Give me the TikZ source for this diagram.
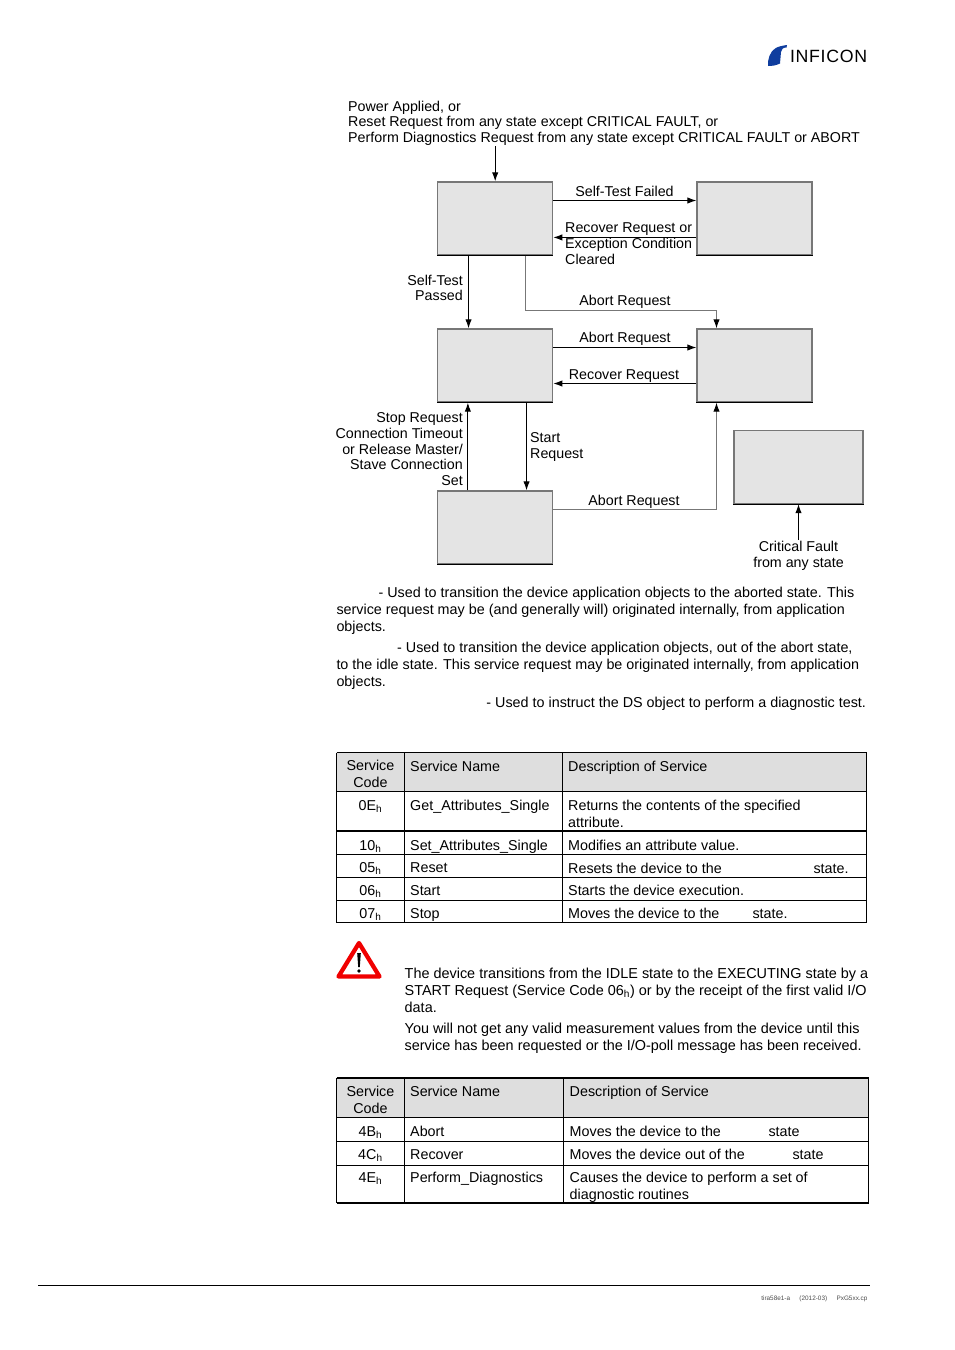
\documentclass[tikz,border=0pt]{standalone}
\usepackage{fontspec}
\setmainfont{Liberation Sans}
\usetikzlibrary{arrows.meta, positioning, calc}
\definecolor{boxc}{HTML}{E4E4E4}
\definecolor{framec}{HTML}{777777}
\definecolor{headc}{HTML}{DEDEDE}
\definecolor{warnc}{HTML}{F00000}
\definecolor{logoc}{HTML}{0F3D9E}
\newcommand{\statebox}[3][]{%
  \node[statenode, #1] (#2) at #3 {};
  \draw[black, line width=0.8pt] (#2.south west) -- (#2.south east);
}
\newcommand{\hs}{\textsubscript{h}}
\begin{document}
\begin{tikzpicture}[x=0.75pt, y=-0.75pt, >={Latex[length=6.8pt,width=4.8pt]},
    line width=0.75pt,
    statenode/.style={draw=framec, fill=boxc, line width=0.9pt, minimum width=86.2pt,
      minimum height=54.8pt, inner sep=0pt},
    graphline/.style={black, ->},
    softline/.style={framec, -{Latex[length=6.8pt,width=4.8pt,black]}},
    lab/.style={inner sep=0pt, align=center, font=\fontsize{10.7}{11.7}\selectfont},
    labl/.style={lab, align=left, anchor=north west},
    labr/.style={lab, align=right, anchor=north east},
    para/.style={inner sep=0pt, align=left, anchor=north west, font=\fontsize{10.76}{12.45}\selectfont},
    warnpara/.style={para, font=\fontsize{10.82}{12.5}\selectfont},
    cell/.style={inner sep=0pt, align=left, anchor=base west, font=\fontsize{10.74}{12.4}\selectfont},
    codecell/.style={cell, align=center, anchor=base},
    tabline/.style={black, line width=0.75pt},
    tabthick/.style={black, line width=1.3pt}]
  \useasboundingbox (0,0) rectangle (954,1350);

  % logo
  \fill[logoc] (768,66) .. controls (767.5,59) and (770,52) .. (775,48.5)
    .. controls (778,46.5) and (783,45.5) .. (787,45) -- (786.5,47.5)
    .. controls (783,47.5) and (781.5,49) .. (781,52) -- (780,63.5)
    .. controls (776,65.5) and (772,66) .. (768,66) -- cycle;
  \node[inner sep=0pt, anchor=base west, font=\fontsize{13.3}{14}\selectfont\addfontfeature{LetterSpace=4}] (logotext)
    at (789.5,62) {INFICON};

  % states
  \statebox{selftest}{(495.2,218.5)}
  \statebox{standby}{(754.5,218.5)}
  \statebox{idle}{(495.2,365.5)}
  \statebox{aborted}{(754.5,365.5)}
  \statebox{executing}{(495.2,527.5)}
  \statebox[minimum width=96.8pt]{critical}{(798.5,467)}

  \node[labl] (powerlab) at (347.7,100.5) {Power Applied, or\\
    Reset Request from any state except CRITICAL FAULT, or\\
    Perform Diagnostics Request from any state except CRITICAL FAULT or ABORT};
  \coordinate (powerin) at (495.2,146);
  \coordinate (faultin) at (798.5,540);
  \draw[graphline] (powerin) -- (selftest.north);

  \draw[graphline] ([yshift=13.5pt]selftest.east) -- ([yshift=13.5pt]standby.west);
  \draw[graphline] ([yshift=-14.2pt]standby.west) -- ([yshift=-14.2pt]selftest.east);
  \draw[graphline] ([xshift=-20pt]selftest.south) -- ([xshift=-20pt]idle.north);
  \draw[softline] ([xshift=23pt]selftest.south) |- (600,310.5) -| ([xshift=-28.5pt]aborted.north);
  \draw[graphline] ([yshift=13.5pt]idle.east) -- ([yshift=13.5pt]aborted.west);
  \draw[graphline] ([yshift=-13.5pt]aborted.west) -- ([yshift=-13.5pt]idle.east);
  \draw[graphline] ([xshift=23.5pt]idle.south) -- ([xshift=23.5pt]executing.north);
  \draw[graphline] ([xshift=-20.5pt]executing.north) -- ([xshift=-20.5pt]idle.south);
  \draw[softline] ([yshift=13.5pt]executing.east) -| ([xshift=-28.5pt]aborted.south);
  \draw[graphline] (faultin) -- (critical.south);

  \node[lab] (failedlab) at (624.5,191.5) {Self-Test Failed};
  \node[labl] (recoverlab) at (564.7,222.5) {Recover Request or\\Exception Condition\\Cleared};
  \node[labr] (passedlab) at (463.3,274.5) {Self-Test\\Passed};
  \node[lab] (abortlab) at (625,302) {Abort Request};
  \node[lab] (abortlabb) at (625,339) {Abort Request};
  \node[lab] (recoverlabb) at (624,376) {Recover Request};
  \node[labr] (stoplab) at (463.3,412.5) {Stop Request\\Connection Timeout\\or Release Master/\\Stave Connection\\Set};
  \node[labl] (startlab) at (529.7,432.5) {Start\\Request};
  \node[lab] (abortlabc) at (634,502) {Abort Request};
  \node[lab] (faultlab) at (798.5,556) {Critical Fault\\from any state};

  % service notes
  \node[para] (noteabort) at (336,587) {\hspace*{31.5pt}- Used to transition the device application objects to the aborted state. This\\
    service request may be (and generally will) originated internally, from application\\
    objects.};
  \node[para] (noterecover) at (336,642) {\hspace*{45.5pt}- Used to transition the device application objects, out of the abort state,\\
    to the idle state. This service request may be originated internally, from application\\
    objects.};
  \node[para, anchor=north east] (notediag) at (866.5,697) {- Used to instruct the DS object to perform a diagnostic test.};

  % first table
  \fill[headc] (336.5,752.5) rectangle (866.5,791.5);
  \draw[tabline] (336.5,752.5) -- (866.5,752.5);
  \draw[tabline] (336.5,791.5) -- (866.5,791.5);
  \draw[tabthick] (336.5,831) -- (866.5,831);
  \draw[tabline] (336.5,854.5) -- (866.5,854.5);
  \draw[tabthick] (336.5,877.5) -- (866.5,877.5);
  \draw[tabline] (336.5,900) -- (866.5,900);
  \draw[tabline] (336.5,922.5) -- (866.5,922.5);
  \foreach \tx in {336.5,404.5,562.5}
    \draw[tabline] (\tx,752.5) -- (\tx,922.5);
  \draw[tabthick] (866.5,752.5) -- (866.5,922.5);
  \node[codecell] (hcodea) at (370.5,787) {Service\\Code};
  \node[cell] (hnamea) at (409.7,771) {Service Name};
  \node[cell] (hdesca) at (567.7,771) {Description of Service};
  \node[codecell] (codeoe) at (370.5,810) {0E\hs};
  \node[cell] (nameoe) at (409.7,810) {Get\_Attributes\_Single};
  \node[cell] (descoea) at (567.7,810) {Returns the contents of the specified};
  \node[cell] (descoeb) at (567.7,827) {attribute.};
  \node[codecell] (codeten) at (370.5,850) {10\hs};
  \node[cell] (nameten) at (409.7,850) {Set\_Attributes\_Single};
  \node[cell] (descten) at (567.7,850) {Modifies an attribute value.};
  \node[codecell] (codefive) at (370.5,872) {05\hs};
  \node[cell] (namefive) at (409.7,872) {Reset};
  \node[cell] (descfive) at (567.7,873) {Resets the device to the};
  \node[cell] (statefive) at (813,873) {state.};
  \node[codecell] (codesix) at (370.5,895) {06\hs};
  \node[cell] (namesix) at (409.7,895) {Start};
  \node[cell] (descsix) at (567.7,895) {Starts the device execution.};
  \node[codecell] (codeseven) at (370.5,918) {07\hs};
  \node[cell] (nameseven) at (409.7,918) {Stop};
  \node[cell] (descseven) at (567.7,918) {Moves the device to the};
  \node[cell] (stateseven) at (752,918) {state.};

  % warning sign
  \draw[warnc, line width=3.2pt, line join=round, fill=white]
    (359,943) -- (379.5,976.5) -- (338.5,976.5) -- cycle;
  \fill[black] (357.2,953) -- (360.8,953) -- (359.8,967) -- (358.2,967) -- cycle;
  \fill[black] (359,971) circle (1.9);

  \node[warnpara] (warntext) at (404.2,968) {The device transitions from the IDLE state to the EXECUTING state by a\\
    START Request (Service Code 06\hs) or by the receipt of the first valid I/O\\
    data.};
  \node[warnpara] (warntextb) at (404.2,1023) {You will not get any valid measurement values from the device until this\\
    service has been requested or the I/O-poll message has been received.};

  % second table
  \fill[headc] (336.5,1078) rectangle (868.5,1117.5);
  \draw[tabthick] (336.5,1078) -- (868.5,1078);
  \draw[tabline] (336.5,1117.5) -- (868.5,1117.5);
  \draw[tabline] (336.5,1141) -- (868.5,1141);
  \draw[tabline] (336.5,1165) -- (868.5,1165);
  \draw[tabthick] (336.5,1203) -- (868.5,1203);
  \foreach \tx in {336.5,404.5,563.5,868.5}
    \draw[tabline] (\tx,1078) -- (\tx,1203);
  \node[codecell] (hcodeb) at (370.5,1113) {Service\\Code};
  \node[cell] (hnameb) at (409.7,1096) {Service Name};
  \node[cell] (hdescb) at (569.2,1096) {Description of Service};
  \node[codecell] (codeab) at (370.5,1136) {4B\hs};
  \node[cell] (nameab) at (409.7,1136) {Abort};
  \node[cell] (descab) at (569.2,1136) {Moves the device to the};
  \node[cell] (stateab) at (768,1136) {state};
  \node[codecell] (codere) at (370.5,1159) {4C\hs};
  \node[cell] (namere) at (409.7,1159) {Recover};
  \node[cell] (descre) at (569.2,1159) {Moves the device out of the};
  \node[cell] (statere) at (792,1159) {state};
  \node[codecell] (codepd) at (370.5,1182) {4E\hs};
  \node[cell] (namepd) at (409.7,1182) {Perform\_Diagnostics};
  \node[cell] (descpd) at (569.2,1182) {Causes the device to perform a set of};
  \node[cell] (descpdb) at (569.2,1199) {diagnostic routines};

  % footer
  \coordinate (footl) at (38,1285.5);
  \coordinate (footr) at (870,1285.5);
  \draw[black, line width=0.75pt] (footl) -- (footr);
  \node[inner sep=0pt, anchor=base east, font=\fontsize{4.8}{5}\selectfont, black!70] (footer)
    at (868,1300) {tira58e1-a\hspace{7pt}(2012-03)\hspace{7pt}PxG5xx.cp};
\end{tikzpicture}
\end{document}
